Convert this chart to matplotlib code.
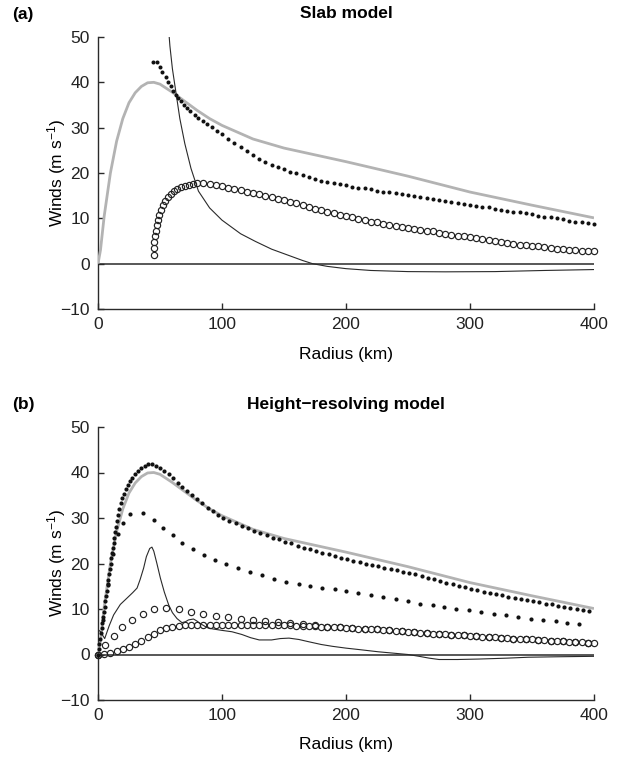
import matplotlib
matplotlib.use("Agg")
import matplotlib.pyplot as plt

plt.rcParams['font.family'] = ['Liberation Sans', 'DejaVu Sans']
plt.rcParams['mathtext.fontset'] = 'custom'
plt.rcParams['mathtext.rm'] = 'Liberation Sans'
plt.rcParams['mathtext.it'] = 'Liberation Sans:italic'
plt.rcParams['mathtext.bf'] = 'Liberation Sans:bold'

# ---------------- data ----------------
x_ticks = [0, 100, 200, 300, 400]
y_ticks = [-10, 0, 10, 20, 30, 40, 50]

# gradient wind (grey), same in both panels
grey_r = [0, 2, 5, 10, 15, 20, 25, 30, 35, 40, 45, 50, 60, 70, 80, 90, 100,
          125, 150, 175, 200, 250, 300, 350, 400]
grey_v = [0, 3.0, 10.5, 20.0, 27.0, 32.0, 35.5, 37.7, 39.1, 39.9, 40.0, 39.6,
          37.8, 35.8, 33.8, 32.0, 30.5, 27.5, 25.5, 24.0, 22.5, 19.3, 15.8, 12.9, 10.1]

# (a) slab model: thin line
thin_a_r = [56, 58, 60, 63, 66, 70, 75, 81, 90, 100, 115, 127, 140, 154, 165,
            173, 185, 200, 220, 250, 280, 320, 360, 400]
thin_a_v = [55, 48, 43, 37.5, 32, 26.5, 21, 16, 12.3, 9.6, 6.6, 4.9, 3.2, 1.8, 0.7,
            0.0, -0.6, -1.1, -1.5, -1.75, -1.8, -1.75, -1.5, -1.3]

# (a) filled dots
dots_a_r = [44.5, 47.5, 50, 52, 54.5, 56.5, 58.5, 60.5, 62.5, 64.5, 67, 69, 72,
            74.5, 78, 81, 84.5, 88, 92, 96, 100,
            105, 110, 115, 120, 125, 130, 135, 140, 145, 150,
            155, 160, 165, 170, 175, 180, 185, 190, 195, 200,
            205, 210, 215, 220, 225, 230, 235, 240, 245, 250,
            255, 260, 265, 270, 275, 280, 285, 290, 295, 300,
            305, 310, 315, 320, 325, 330, 335, 340, 345, 350,
            355, 360, 365, 370, 375, 380, 385, 390, 395, 400]
dots_a_v = [44.5, 44.5, 43.4, 42.3, 41.2, 40.1, 39.1, 38.1, 37.2, 36.5, 35.8, 35.0,
            34.3, 33.7, 32.9, 32.2, 31.5, 30.8, 30.1, 29.3, 28.6,
            27.6, 26.6, 25.7, 24.8, 23.9, 23.1, 22.4, 21.8, 21.3, 20.8,
            20.3, 19.9, 19.5, 19.1, 18.7, 18.3, 18.0, 17.7, 17.5, 17.3,
            17.0, 16.8, 16.6, 16.4, 16.1, 15.9, 15.7, 15.5, 15.3, 15.1,
            14.9, 14.7, 14.5, 14.3, 14.1, 13.9, 13.6, 13.4, 13.2, 13.0,
            12.8, 12.6, 12.4, 12.1, 11.9, 11.7, 11.5, 11.3, 11.1, 10.9,
            10.6, 10.4, 10.2, 10.0, 9.8, 9.5, 9.3, 9.1, 8.9, 8.7]

# (a) open circles
circ_a_r = [45, 45.2, 45.4, 46, 46.5, 47.3, 48.1, 49.2, 50.5, 52.2, 54, 56.2,
            58.6, 61.3, 64, 66.9, 70.2, 73.4, 76.6, 80.1,
            85, 90, 95, 100, 105, 110, 115, 120, 125, 130,
            135, 140, 145, 150, 155, 160, 165, 170, 175, 180,
            185, 190, 195, 200, 205, 210, 215, 220, 225, 230,
            235, 240, 245, 250, 255, 260, 265, 270, 275, 280,
            285, 290, 295, 300, 305, 310, 315, 320, 325, 330,
            335, 340, 345, 350, 355, 360, 365, 370, 375, 380,
            385, 390, 395, 400]
circ_a_v = [2.0, 3.4, 4.7, 6.0, 7.2, 8.5, 9.6, 10.8, 11.9, 12.9, 13.9, 14.7,
            15.4, 16.0, 16.5, 16.9, 17.2, 17.4, 17.6, 17.7,
            17.7, 17.6, 17.4, 17.1, 16.8, 16.5, 16.2, 15.9, 15.6, 15.3,
            15.0, 14.6, 14.3, 14.0, 13.6, 13.3, 12.9, 12.5, 12.1, 11.8,
            11.4, 11.1, 10.8, 10.5, 10.2, 9.9, 9.6, 9.3, 9.1, 8.8,
            8.5, 8.3, 8.1, 7.9, 7.7, 7.5, 7.3, 7.1, 6.8, 6.6,
            6.4, 6.2, 6.0, 5.8, 5.6, 5.4, 5.2, 5.0, 4.8, 4.6,
            4.4, 4.2, 4.1, 3.9, 3.8, 3.6, 3.5, 3.3, 3.2, 3.1,
            3.0, 2.9, 2.8, 2.7]

# (b) height-resolving model: thin line
thin_b_r = [0, 2, 5.4, 9, 12.6, 18, 23.4, 28, 31.5, 34, 36.8, 39, 41.7, 43.5, 45,
            47.5, 50.3, 53.5, 57, 60, 63.7, 67.7, 70.5, 73, 77, 79.5, 82.5, 88, 93,
            100, 108, 116, 123, 130, 140, 147, 154, 162, 170, 180, 189, 200, 210,
            226, 242, 250, 259, 267, 275, 290, 307, 330, 347, 370, 400]
thin_b_v = [5.5, 5.0, 3.5, 6.3, 8.7, 11.0, 12.4, 13.6, 14.6, 16.5, 19.0, 21.5, 23.3,
            23.6, 22.7, 20.0, 16.8, 13.7, 10.9, 9.2, 7.9, 7.0, 7.2, 7.6, 7.8, 7.4,
            6.8, 5.9, 5.6, 5.3, 5.0, 4.4, 3.7, 3.2, 3.2, 3.5, 3.6, 3.3, 2.8, 2.2,
            1.8, 1.4, 1.1, 0.6, 0.2, 0.0, -0.4, -0.8, -1.1, -1.1, -1.0, -0.8, -0.6,
            -0.5, -0.4]

# (b) dense filled dots
dots_b_r = [0, 0.6, 1.2, 1.8, 2.4, 3.0, 3.6, 4.2, 4.8, 5.4, 6.0, 6.6, 7.2, 7.8,
            8.4, 9.0, 9.6, 10.2, 10.8, 11.4, 12.0, 12.6, 13.2, 13.8,
            14.5, 15.3, 16.2, 17.2, 18.3, 19.5, 20.8, 22.2, 23.8, 25.6, 27.6, 29.8,
            32.2, 34.8, 37.6, 40.5, 43.6, 46.8, 50.1, 53.5, 57.0, 60.6, 64.3, 68.1,
            72.0, 76.0, 80.0, 84.2, 88.4, 92.6, 96.8,
            101, 106, 111, 116, 121, 126, 131, 136, 141, 146,
            151, 156, 161, 166, 171, 176, 181, 186, 191, 196,
            201, 206, 211, 216, 221, 226, 231, 236, 241, 246,
            251, 256, 261, 266, 271, 276, 281, 286, 291, 296,
            301, 306, 311, 316, 321, 326, 331, 336, 341, 346,
            351, 356, 361, 366, 371, 376, 381, 386, 391, 396]
dots_b_v = [0, 1.2, 2.3, 3.5, 4.7, 5.9, 7.0, 8.2, 9.4, 10.5, 11.7, 12.9, 14.0, 15.2,
            16.4, 17.6, 18.7, 19.9, 21.1, 22.2, 23.4, 24.6, 25.7, 26.9,
            28.1, 29.4, 30.6, 31.9, 33.2, 34.3, 35.3, 36.3, 37.2, 38.1, 38.9, 39.7,
            40.4, 41.0, 41.5, 41.8, 41.8, 41.5, 41.0, 40.4, 39.6, 38.7, 37.8, 36.9,
            36.0, 35.0, 34.1, 33.2, 32.3, 31.5, 30.7,
            30.0, 29.4, 28.8, 28.2, 27.7, 27.2, 26.7, 26.2, 25.7, 25.3,
            24.8, 24.4, 23.9, 23.5, 23.1, 22.7, 22.3, 22.0, 21.6, 21.3,
            20.9, 20.6, 20.3, 20.0, 19.7, 19.4, 19.1, 18.8, 18.5, 18.2,
            17.9, 17.6, 17.2, 16.9, 16.5, 16.2, 15.8, 15.5, 15.1, 14.8,
            14.4, 14.1, 13.8, 13.5, 13.2, 13.0, 12.7, 12.5, 12.2, 12.0,
            11.7, 11.5, 11.2, 11.0, 10.7, 10.5, 10.2, 10.0, 9.7, 9.5]

# (b) sparse filled dots
sdots_b_r = [0, 4, 8, 12, 15.9, 20.2, 26.1, 36.3, 44.9, 52.2, 60.2, 67.7, 76.3,
             85.2, 94, 103.5, 113, 122.6, 132.3, 142, 152, 162, 171, 181, 191, 200,
             210, 220, 230, 240, 250, 260, 270, 279, 289, 299, 309, 319, 329, 339,
             349, 359, 369, 378, 388]
sdots_b_v = [0, 7.6, 15.4, 22.0, 26.4, 28.9, 30.8, 31.0, 29.5, 27.9, 26.2, 24.6,
             23.1, 21.9, 20.8, 19.9, 19.0, 18.2, 17.4, 16.6, 15.9, 15.5, 15.1, 14.7,
             14.3, 14.0, 13.5, 13.1, 12.6, 12.2, 11.7, 11.2, 10.8, 10.4, 10.0, 9.7,
             9.3, 8.9, 8.6, 8.2, 7.9, 7.6, 7.3, 7.0, 6.8]

# (b) dense open circles
circ_b_r = [0, 5, 10, 15, 20, 25, 30, 35, 40, 45, 50, 55, 60, 65, 70, 75, 80, 85,
            90, 95, 100, 105, 110, 115, 120, 125,
            130, 135, 140, 145, 150, 155, 160, 165, 170, 175,
            180, 185, 190, 195, 200, 205, 210, 215, 220, 225,
            230, 235, 240, 245, 250, 255, 260, 265, 270, 275,
            280, 285, 290, 295, 300, 305, 310, 315, 320, 325,
            330, 335, 340, 345, 350, 355, 360, 365, 370, 375,
            380, 385, 390, 395, 400]
circ_b_v = [0, 0.1, 0.35, 0.7, 1.1, 1.6, 2.3, 3.0, 3.8, 4.6, 5.3, 5.8, 6.1, 6.3,
            6.4, 6.5, 6.5, 6.5, 6.5, 6.5, 6.5, 6.5, 6.5, 6.5, 6.5, 6.5,
            6.5, 6.5, 6.5, 6.4, 6.4, 6.4, 6.3, 6.3, 6.2, 6.2,
            6.1, 6.1, 6.0, 6.0, 5.9, 5.8, 5.7, 5.7, 5.6, 5.5,
            5.4, 5.3, 5.2, 5.1, 5.0, 4.9, 4.8, 4.7, 4.6, 4.5,
            4.4, 4.3, 4.3, 4.2, 4.1, 4.0, 3.9, 3.8, 3.8, 3.7,
            3.6, 3.5, 3.4, 3.4, 3.3, 3.2, 3.1, 3.0, 3.0, 2.9,
            2.8, 2.7, 2.7, 2.6, 2.5]

# (b) sparse open circles
scirc_b_r = [0, 6, 12.5, 19.5, 27.5, 36, 45.5, 55, 65, 75, 85, 95, 105, 115, 125,
             135, 145, 155, 165, 175, 185, 195, 205, 215, 225, 235, 245, 255, 265,
             275, 285, 295, 305, 315, 325, 335, 345, 355, 365, 375, 385, 395]
scirc_b_v = [0, 2.1, 4.15, 6.1, 7.5, 8.95, 10.1, 10.25, 9.9, 9.45, 8.9, 8.5, 8.2,
             7.9, 7.6, 7.3, 7.1, 6.9, 6.7, 6.5, 6.1, 6.0, 5.8, 5.7, 5.5, 5.3, 5.1,
             4.9, 4.7, 4.5, 4.3, 4.2, 4.0, 3.8, 3.7, 3.5, 3.4, 3.2, 3.0, 2.9, 2.7, 2.6]

# ---------------- figure ----------------
W, H = 621, 760
fig = plt.figure(figsize=(W / 100, H / 100), dpi=100)

FS = 12.5
DARK = '#2a2a2a'
GREY = '#b3b3b3'

def px(x0, y0, x1, y1):
    return [x0 / W, 1 - y1 / H, (x1 - x0) / W, (y1 - y0) / H]

axA = fig.add_axes(px(98, 37, 594, 309))
axB = fig.add_axes(px(98, 427, 594, 700))

for ax in (axA, axB):
    ax.set_xlim(0, 400)
    ax.set_ylim(-10, 50)
    ax.set_xticks(x_ticks)
    ax.set_yticks(y_ticks)
    ax.spines['top'].set_visible(False)
    ax.spines['right'].set_visible(False)
    for s in ('left', 'bottom'):
        ax.spines[s].set_color(DARK)
        ax.spines[s].set_linewidth(1.0)
    ax.tick_params(direction='in', length=4, width=1.0, color=DARK,
                   labelsize=FS, labelcolor='#222222')
    ax.tick_params(axis='y', pad=6)
    ax.tick_params(axis='x', pad=6)
    ax.axhline(0, color=DARK, lw=1.1, zorder=2)
    ax.plot(grey_r, grey_v, color=GREY, lw=2.0, zorder=3, solid_capstyle='butt')

# panel (a)
axA.plot(thin_a_r, thin_a_v, color=DARK, lw=0.8, zorder=4)
axA.plot(dots_a_r, dots_a_v, 'o', color='#111111', ms=2.9, mew=0, zorder=5,
         clip_on=False)
axA.plot(circ_a_r, circ_a_v, 'o', mfc='none', mec='#222222', ms=4.5, mew=0.85,
         zorder=5, clip_on=False)

# panel (b)
axB.plot(thin_b_r, thin_b_v, color=DARK, lw=0.8, zorder=4)
axB.plot(dots_b_r, dots_b_v, 'o', color='#111111', ms=3.0, mew=0, zorder=5,
         clip_on=False)
axB.plot(sdots_b_r, sdots_b_v, 'o', color='#111111', ms=3.0, mew=0, zorder=5,
         clip_on=False)
axB.plot(circ_b_r, circ_b_v, 'o', mfc='none', mec='#222222', ms=4.5, mew=0.85,
         zorder=5, clip_on=False)
axB.plot(scirc_b_r, scirc_b_v, 'o', mfc='none', mec='#222222', ms=4.5, mew=0.85,
         zorder=5, clip_on=False)

# texts
def ftext(x, y, s, **kw):
    fig.text(x / W, 1 - y / H, s, **kw)

ftext(23, 14, '(a)', fontsize=FS, fontweight='bold', ha='center', va='center')
ftext(346, 14, 'Slab model', fontsize=FS, fontweight='bold', ha='center', va='center')
ftext(346, 354, 'Radius (km)', fontsize=FS, ha='center', va='center')
ftext(57, 173, 'Winds (m s$^{-1}$)', fontsize=FS, ha='center', va='center',
      rotation=90)

ftext(23, 404, '(b)', fontsize=FS, fontweight='bold', ha='center', va='center')
ftext(346, 404, 'Height\u2212resolving model', fontsize=FS, fontweight='bold',
      ha='center', va='center')
ftext(346, 744, 'Radius (km)', fontsize=FS, ha='center', va='center')
ftext(57, 563, 'Winds (m s$^{-1}$)', fontsize=FS, ha='center', va='center',
      rotation=90)

fig.savefig('out.png', dpi=100)
